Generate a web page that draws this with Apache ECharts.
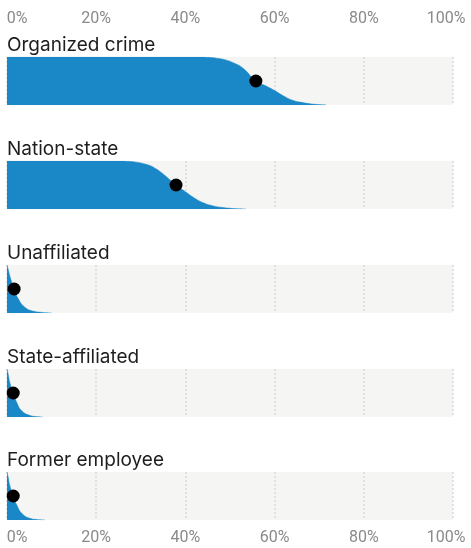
<!DOCTYPE html>
<html>
<head>
<meta charset="utf-8">
<script src="https://cdn.jsdelivr.net/npm/echarts@6/dist/echarts.min.js"></script>
<style>html,body{margin:0;padding:0;background:#fff;}#c{width:471px;height:548px;}</style>
</head>
<body>
<div id="c"></div>
<script>
// ---- data ----
const panelNames = ['Organized crime', 'Nation-state', 'Unaffiliated', 'State-affiliated', 'Former employee'];
const medians = [55.8, 37.9, 1.6, 1.4, 1.4];
const tickValues = [0, 20, 40, 60, 80, 100];
const tickLabels = ['0%', '20%', '40%', '60%', '80%', '100%'];

const curveOrganizedCrime = [[0,1],[43,1],[45,0.995],[47,0.975],[49,0.94],[51,0.87],[53,0.76],[55.8,0.5],[58,0.4],[60,0.3],[62,0.19],[64,0.1],[66,0.055],[68,0.025],[70,0.008],[71.5,0]];
const curveNationState = [[0,1],[25,1],[27,0.995],[29,0.975],[31,0.935],[33,0.86],[35,0.73],[37.9,0.5],[40,0.36],[42,0.23],[44,0.13],[46,0.07],[48,0.035],[50,0.015],[52,0.004],[53.5,0]];
const curveUnaffiliated = [[0,1],[0.3,0.9],[0.7,0.75],[1.6,0.5],[2.5,0.3],[4,0.12],[6,0.035],[8,0.012],[10,0]];
const curveStateAffiliated = [[0,1],[0.3,0.88],[0.6,0.73],[1.4,0.5],[2.2,0.3],[3.3,0.13],[5.2,0.03],[6.5,0.01],[8,0]];
const curveFormerEmployee = [[0,1],[0.3,0.88],[0.6,0.73],[1.4,0.5],[2.2,0.31],[3.4,0.13],[5.3,0.03],[6.7,0.01],[8.5,0]];
const curves = [curveOrganizedCrime, curveNationState, curveUnaffiliated, curveStateAffiliated, curveFormerEmployee];

// ---- layout ----
const BLUE = '#1a87c7';
const panelTops = [57, 161, 265, 369, 472];
const panelH = 48;
const n = panelNames.length;

const grids = [], xAxes = [], yAxes = [], series = [], graphics = [];
for (let i = 0; i < n; i++) {
  grids.push({left: 7, right: 18, top: panelTops[i], height: panelH, show: true, backgroundColor: '#f5f5f3', borderWidth: 0});
  const isFirst = i === 0, isLast = i === n - 1;
  xAxes.push({
    gridIndex: i, type: 'value', min: 0, max: 100, interval: 20,
    position: isFirst ? 'top' : 'bottom',
    axisLine: {show: false}, axisTick: {show: false},
    axisLabel: {
      show: isFirst || isLast,
      margin: isFirst ? 30 : 10,
      color: '#8a8a8a', fontSize: 16, fontFamily: 'Roboto',
      showMinLabel: true, showMaxLabel: true,
      formatter: function (v) {
        const lbl = tickLabels[tickValues.indexOf(v)];
        if (v === 0) return '{l|' + lbl + '}';
        if (v === 100) return '{r|' + lbl + '}';
        return lbl;
      },
      rich: {
        l: {padding: [0, 0, 0, 20], color: '#8a8a8a', fontSize: 16, fontFamily: 'Roboto'},
        r: {padding: [0, 14, 0, 0], color: '#8a8a8a', fontSize: 16, fontFamily: 'Roboto'}
      }
    },
    splitLine: {show: true, lineStyle: {color: '#d9d9d9', width: 1.5, type: [2, 2]}}
  });
  yAxes.push({gridIndex: i, type: 'value', min: 0, max: 1, show: false});
  series.push({
    type: 'line', xAxisIndex: i, yAxisIndex: i, data: curves[i],
    smooth: true, symbol: 'none', sampling: null,
    lineStyle: {width: 0.5, color: BLUE}, areaStyle: {color: BLUE, opacity: 1}, z: 2
  });
  series.push({
    type: 'scatter', xAxisIndex: i, yAxisIndex: i, data: [[medians[i], 0.5]],
    symbolSize: 13, itemStyle: {color: '#000', opacity: 1}, z: 3
  });
  graphics.push({
    type: 'text', left: 7, top: panelTops[i] - 21,
    style: {text: panelNames[i], fill: '#1e1e1e', font: '19px Inter', textVerticalAlign: 'top'}
  });
}

const chart = echarts.init(document.getElementById('c'), null, {renderer: 'canvas'});
chart.setOption({
  animation: false,
  backgroundColor: '#fff',
  grid: grids, xAxis: xAxes, yAxis: yAxes, series: series, graphic: graphics
});
</script>
</body>
</html>
